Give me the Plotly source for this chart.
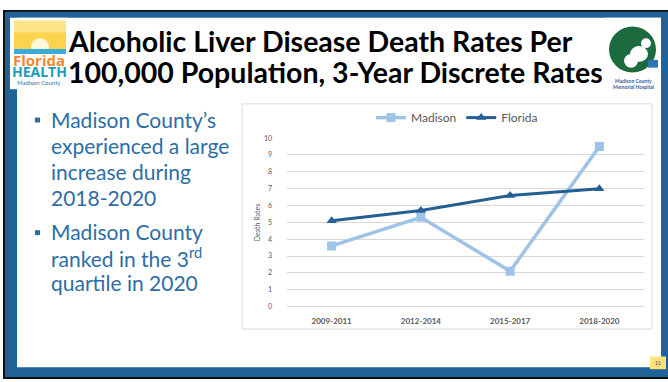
import plotly.graph_objects as go

# ---------------- data ----------------
categories = ["2009-2011", "2012-2014", "2015-2017", "2018-2020"]
madison = [3.6, 5.3, 2.1, 9.5]
florida = [5.1, 5.7, 6.6, 7.0]
y_tick_values = list(range(0, 11))

title_lines = ["Alcoholic Liver Disease Death Rates Per",
               "100,000 Population, 3-Year Discrete Rates"]
bullet_1 = ["Madison County\u2019s", "experienced a large", "increase during", "2018-2020"]
bullet_2 = ["Madison County", "ranked in the 3<sup>rd</sup>", "quartile in 2020"]

# ---------------- helpers ----------------
W, H = 668, 382
def px(x):
    return x / W
def py(y):
    return 1 - y / H

FONT = "Lato"
TEXT_BLUE = "#2D6DA5"
FRAME_BLUE = "#1F6398"
GRAY = "#595959"

fig = go.Figure()
fig.add_trace(go.Scatter(
    x=categories, y=madison, name="Madison", mode="lines+markers",
    line=dict(color="#9DC3E6", width=3.5),
    marker=dict(symbol="square", size=9, color="#9DC3E6")))
fig.add_trace(go.Scatter(
    x=categories, y=florida, name="Florida", mode="lines+markers",
    line=dict(color="#235F93", width=3),
    marker=dict(symbol="triangle-up", size=9, color="#235F93")))

shapes = []
def rect(x0, y0, x1, y1, fill, line_color=None, lw=0, layer="below"):
    shapes.append(dict(type="rect", xref="paper", yref="paper",
                       x0=px(x0), x1=px(x1), y0=py(y1), y1=py(y0),
                       fillcolor=fill,
                       line=dict(color=line_color or fill, width=lw),
                       layer=layer))
def circle(x0, y0, x1, y1, fill, layer="below"):
    shapes.append(dict(type="circle", xref="paper", yref="paper",
                       x0=px(x0), x1=px(x1), y0=py(y1), y1=py(y0),
                       fillcolor=fill, line=dict(width=0), layer=layer))

# slide frame
rect(3, 5, 668, 382, "#111111")
rect(5, 7, 668, 380, FRAME_BLUE)
rect(17, 13, 661, 370, "#FFFFFF")
# chart box
rect(242, 101, 652, 331, "#FFFFFF", "#D9D9D9", 1)

# left logo
rect(10, 13, 68, 86, "#FFFFFF")
rect(14, 16, 66, 46, "#FCD34D")
rect(14, 16, 66, 28, "#FDE38A")
circle(31, 34, 49, 52, "#FFF7D6")
rect(14, 45, 66, 50, "#3AAAD8")

# right logo
rect(605, 13, 661, 100, "#FFFFFF")
circle(609, 22, 656, 69, "#1C6B3E")
circle(630, 42, 648, 58, "#FFFFFF")
circle(624, 50, 638, 64, "#FFFFFF")
circle(641, 34, 651, 44, "#FFFFFF")
rect(648, 56, 658, 64, "#2E75B6")

# bullets
rect(35, 115, 40, 120, TEXT_BLUE)
rect(35, 230, 40, 235, TEXT_BLUE)

# page number box
rect(650, 359, 666, 372, "#FFE27A")

annotations = []
def text(x, y, s, size, color, bold=False, xanchor="left", angle=0, family=FONT):
    annotations.append(dict(
        x=px(x), y=py(y), xref="paper", yref="paper", text=s, showarrow=False,
        xanchor=xanchor, yanchor="middle", textangle=angle,
        font=dict(family=family, size=size, color=color,
                  weight="bold" if bold else "normal")))

# title
text(66, 37, title_lines[0], 28.5, "#000000", bold=True)
text(66, 68, title_lines[1], 28.5, "#000000", bold=True)

# logo texts
text(39, 56, "Florida", 15, "#F08A2B", bold=True, xanchor="center", family="Open Sans")
text(39, 68, "HEALTH", 14, "#1B9DB8", bold=True, xanchor="center", family="Open Sans")
text(39, 79, "Madison County", 6, "#3A6FB0", xanchor="center")
text(633, 78, "Madison County", 5, "#3B5B9A", bold=True, xanchor="center")
text(633, 84, "Memorial Hospital", 5, "#3B5B9A", bold=True, xanchor="center")

# bullet text
for i, s in enumerate(bullet_1):
    text(49, 117 + i * 26.7, s, 21, TEXT_BLUE)
for i, s in enumerate(bullet_2):
    text(49, 231 + i * 26.2, s, 21, TEXT_BLUE)

# axis title
text(257, 222, "Death Rates", 7, GRAY, xanchor="center", angle=-90)

# page number
text(658, 366, "11", 5, "#444444", xanchor="center")

fig.update_layout(
    width=W, height=H,
    margin=dict(l=0, r=0, t=0, b=0),
    paper_bgcolor="#FFFFFF",
    plot_bgcolor="rgba(0,0,0,0)",
    shapes=shapes,
    annotations=annotations,
    showlegend=True,
    legend=dict(orientation="h", x=px(457), y=py(115), xanchor="center",
                yanchor="middle", font=dict(family=FONT, size=12, color=GRAY),
                bgcolor="rgba(0,0,0,0)", itemwidth=30, tracegroupgap=0),
    xaxis=dict(domain=[px(287), px(644)], range=[-0.5, 3.5], showgrid=False,
               showline=False, zeroline=False, ticks="",
               tickfont=dict(family=FONT, size=8, color=GRAY, weight="bold"),
               ticklabelstandoff=8, fixedrange=True),
    yaxis=dict(domain=[py(308), py(136)], range=[0, 10], tickvals=y_tick_values,
               showgrid=True, gridcolor="#D9D9D9", gridwidth=1,
               zeroline=True, zerolinecolor="#D9D9D9", zerolinewidth=1,
               showline=False, ticks="",
               tickfont=dict(family=FONT, size=7, color=GRAY),
               ticklabelstandoff=14, fixedrange=True),
)

fig.write_html("out.html", config={"displayModeBar": False},
               post_script="document.body.style.margin='0px';")
